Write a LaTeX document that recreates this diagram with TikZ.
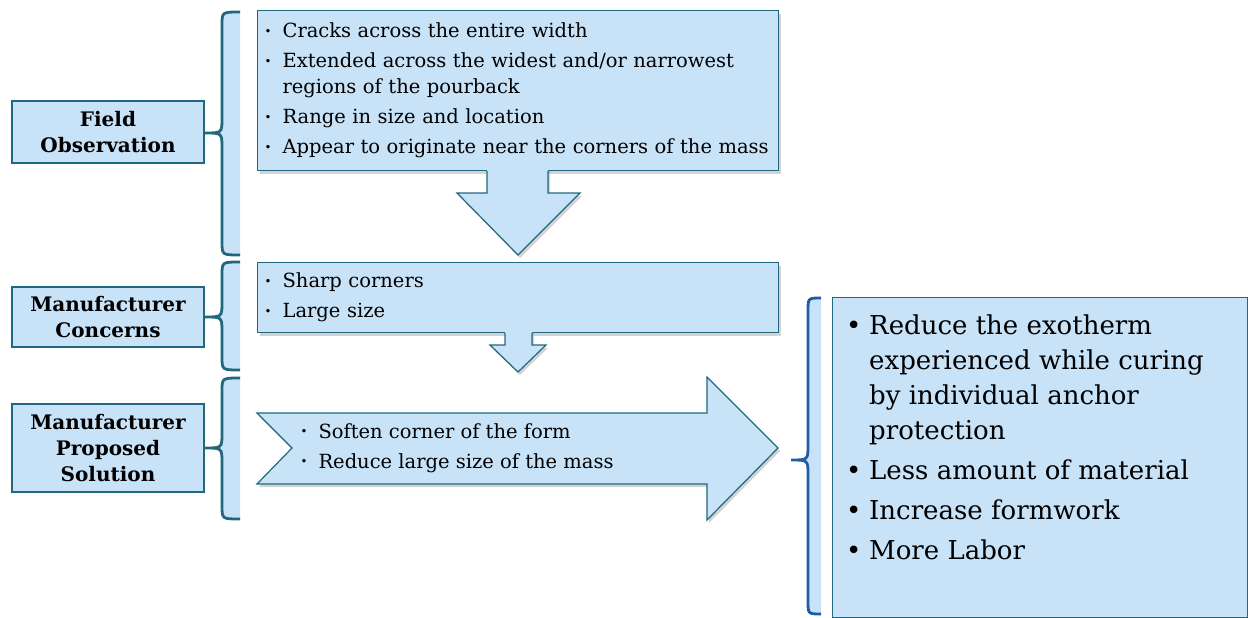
\documentclass[tikz,border=0pt]{standalone}
\usepackage{fontspec}
\setmainfont{DejaVu Serif}
\usetikzlibrary{shadows, calc}

\definecolor{paleblue}{HTML}{C8E2F8}
\definecolor{tealline}{HTML}{21687E}
\definecolor{darkblue}{HTML}{1E5EA6}

\tikzstyle{heading} = [rectangle, draw=tealline, fill=paleblue, line width=1.5pt, minimum width=192pt, align=center, inner sep=0pt, font=\bfseries\fontsize{20}{26}\selectfont]
\tikzstyle{listbox} = [rectangle, draw=tealline, fill=paleblue, line width=1.2pt, anchor=north west, align=left, inner xsep=7pt, inner ysep=0pt, text width=507pt, font=\fontsize{19.5}{26}\selectfont, drop shadow={shadow xshift=2pt, shadow yshift=-3pt, opacity=0.35}]
\tikzstyle{blockarrow} = [fill=paleblue, draw=tealline, line width=1.2pt, line join=miter]
\tikzstyle{bracestyle} = [line width=2.8pt]

\newcommand{\bul}[1]{\makebox[18pt][l]{\raisebox{0.12em}{\scalebox{0.6}{\textbullet}}}#1}
\newcommand{\bigbul}[1]{\makebox[23pt][l]{\textbullet}#1}
% brace: tip x, top y, tip y, bottom y, colour, right x
\newcommand{\bracepath}[5]{(#5,#2) .. controls ({#1+17},#2) .. ({#1+17},{#2+13}) -- ({#1+17},{#3-15}) .. controls ({#1+17},#3) .. (#1,#3) .. controls ({#1+17},#3) .. ({#1+17},{#3+15}) -- ({#1+17},{#4-13}) .. controls ({#1+17},#4) .. (#5,#4)}
\newcommand{\curlybrace}[6]{%
  \fill[paleblue] \bracepath{#1}{#2}{#3}{#4}{#6} -- cycle;
  \draw[bracestyle, draw=#5] \bracepath{#1}{#2}{#3}{#4}{#6};}

\begin{document}
\begin{tikzpicture}[x=1pt, y=-1pt]
		\useasboundingbox (0,0) rectangle (1248,618);

		\node (field) [heading, minimum height=62pt] at (108,132) {Field\\Observation};
		\node (concern) [heading, minimum height=60pt] at (108,317) {Manufacturer\\Concerns};
		\node (proposal) [heading, minimum height=88pt] at (108,448) {Manufacturer\\Proposed\\Solution};

		\curlybrace{205}{12}{133}{255}{tealline}{240}
		\curlybrace{205}{262}{317}{370}{tealline}{240}
		\curlybrace{205}{378}{448}{519}{tealline}{240}
		\curlybrace{791}{298}{460}{614}{darkblue}{821}

		\node (observe) [listbox, minimum height=160pt] at (257,10) {\bul{Cracks across the entire width}\\[4pt]
			\bul{Extended across the widest and/or narrowest}\\ \hspace*{18pt}regions of the pourback\\[4pt]
			\bul{Range in size and location}\\[4pt]
			\bul{Appear to originate near the corners of the mass}};
		\node (concernlist) [listbox, minimum height=70pt] at (257,262) {\bul{Sharp corners}\\[4pt] \bul{Large size}};

		% block arrows
		\fill[paleblue, drop shadow={shadow xshift=2pt, shadow yshift=-3pt, opacity=0.35}] (487,168) -- (487,193) -- (457,193) -- (518,255) -- (580,193) -- (548,193) -- (548,168) -- cycle;
		\draw[blockarrow, fill=none] (487,171) -- (487,193) -- (457,193) -- (518,255) -- (580,193) -- (548,193) -- (548,171);
		\fill[paleblue, drop shadow={shadow xshift=2pt, shadow yshift=-3pt, opacity=0.35}] (505,330) -- (505,345) -- (490,345) -- (518,372) -- (546,345) -- (532,345) -- (532,330) -- cycle;
		\draw[blockarrow, fill=none] (505,333) -- (505,345) -- (490,345) -- (518,372) -- (546,345) -- (532,345) -- (532,333);
		\draw[blockarrow, drop shadow={shadow xshift=2pt, shadow yshift=-3pt, opacity=0.35}] (257,413) -- (707,413) -- (707,377) -- (778,448) -- (707,520) -- (707,484) -- (257,484) -- (292,448) -- cycle;
		\node (soften) [anchor=west, align=left, font=\fontsize{19.5}{26}\selectfont] at (297,448) {\bul{Soften corner of the form}\\[4pt] \bul{Reduce large size of the mass}};

		\node (outcome) [rectangle, draw=tealline, fill=paleblue, line width=1.2pt, anchor=north west, minimum width=415pt, minimum height=320pt] at (832,297) {};
		\node (outcometext) [anchor=north west, align=left, inner sep=0pt, font=\fontsize{26}{35}\selectfont] at (846,315) {\bigbul{Reduce the exotherm}\\ \hspace*{23pt}experienced while curing\\ \hspace*{23pt}by individual anchor\\ \hspace*{23pt}protection\\[5pt]
			\bigbul{Less amount of material}\\[5pt]
			\bigbul{Increase formwork}\\[5pt]
			\bigbul{More Labor}};
		\end{tikzpicture}
\end{document}
